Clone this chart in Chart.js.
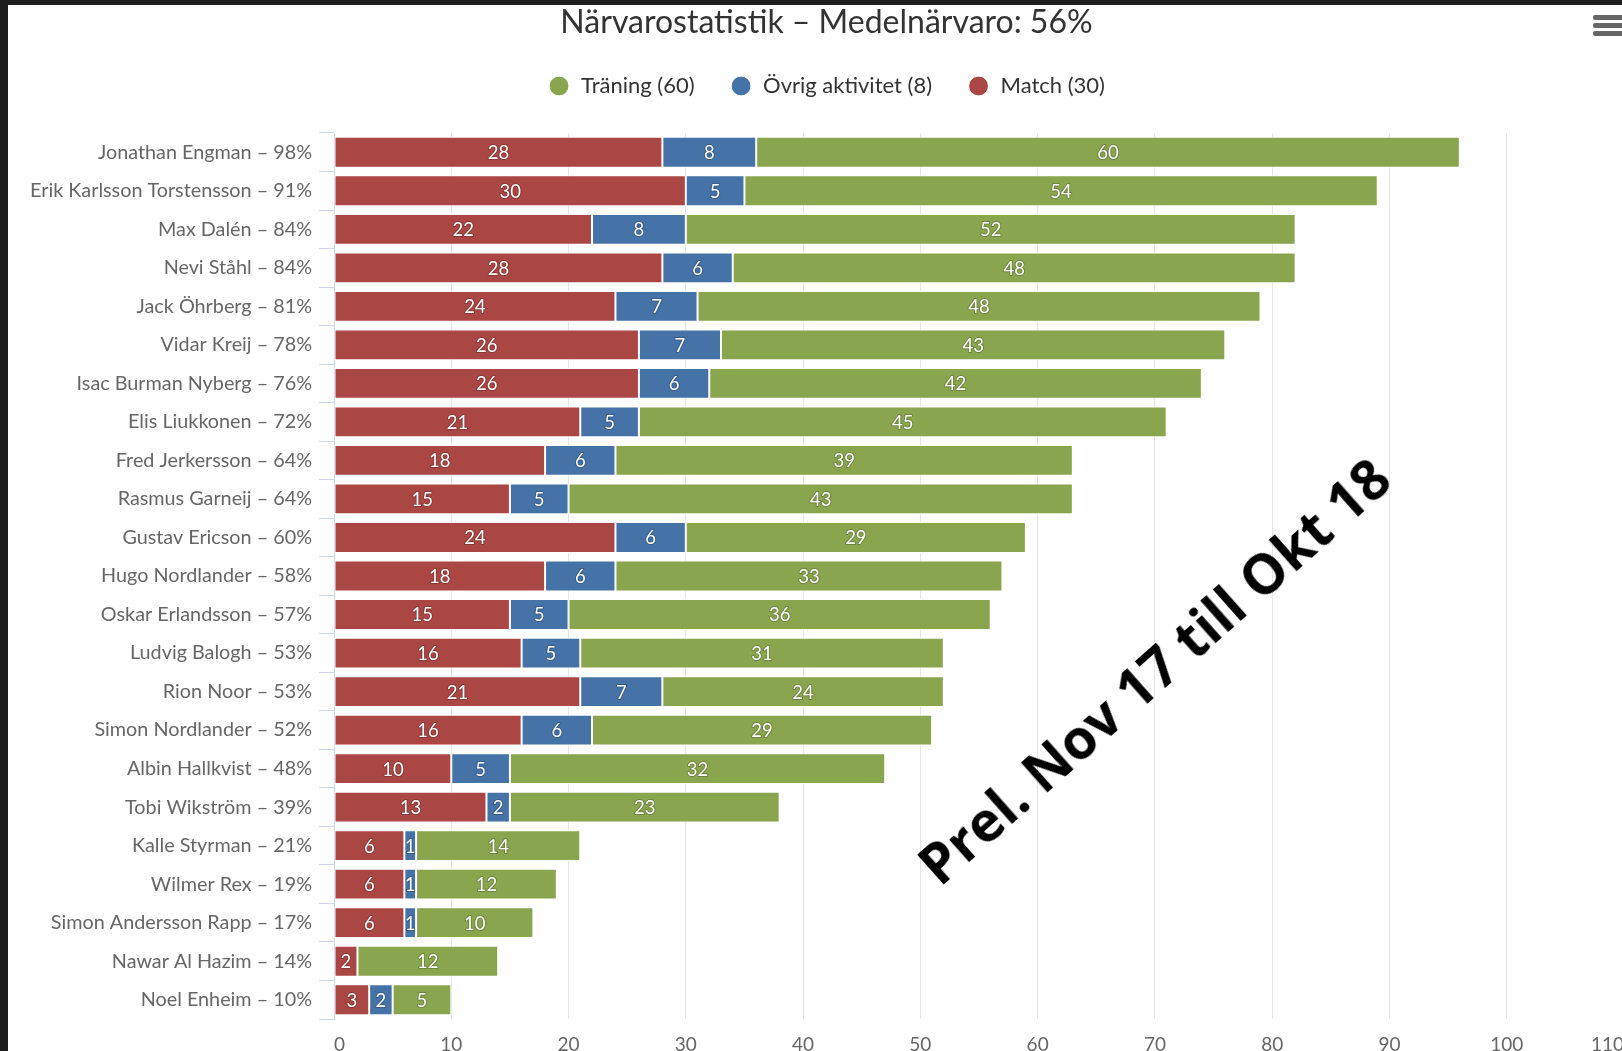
<!DOCTYPE html>
<html>
<head>
<meta charset="utf-8">
<title>Närvarostatistik</title>
<script src="https://cdn.jsdelivr.net/npm/chart.js@4.4.0/dist/chart.umd.min.js"></script>
<style>
  html, body { margin: 0; padding: 0; width: 1622px; height: 1051px; overflow: hidden; background: #1d1d1d; }
  #wrap { position: absolute; left: 8px; top: 5px; width: 1646px; height: 1060px; background: #fff; }
  #menu { position: absolute; left: 1593px; top: 15px; width: 36px; }
  #menu div { height: 4.5px; background: #666; border-radius: 2px; margin-bottom: 3.5px; }
  #stamp {
    position: absolute; left: 1153px; top: 670px;
    transform: translate(-50%, -50%) rotate(-41.6deg);
    font: 700 55px 'Open Sans', sans-serif; color: #000; white-space: nowrap;
  }
</style>
</head>
<body>
<div id="wrap"><canvas id="attendanceChart"></canvas></div>
<div id="menu"><div></div><div></div><div></div></div>
<div id="stamp">Prel. Nov 17 till Okt 18</div>
<script>
const players = [
  'Jonathan Engman – 98%',
  'Erik Karlsson Torstensson – 91%',
  'Max Dalén – 84%',
  'Nevi Ståhl – 84%',
  'Jack Öhrberg – 81%',
  'Vidar Kreij – 78%',
  'Isac Burman Nyberg – 76%',
  'Elis Liukkonen – 72%',
  'Fred Jerkersson – 64%',
  'Rasmus Garneij – 64%',
  'Gustav Ericson – 60%',
  'Hugo Nordlander – 58%',
  'Oskar Erlandsson – 57%',
  'Ludvig Balogh – 53%',
  'Rion Noor – 53%',
  'Simon Nordlander – 52%',
  'Albin Hallkvist – 48%',
  'Tobi Wikström – 39%',
  'Kalle Styrman – 21%',
  'Wilmer Rex – 19%',
  'Simon Andersson Rapp – 17%',
  'Nawar Al Hazim – 14%',
  'Noel Enheim – 10%',
];
const matchCounts = [28, 30, 22, 28, 24, 26, 26, 21, 18, 15, 24, 18, 15, 16, 21, 16, 10, 13, 6, 6, 6, 2, 3];
const otherCounts = [8, 5, 8, 6, 7, 7, 6, 5, 6, 5, 6, 6, 5, 5, 7, 6, 5, 2, 1, 1, 1, null, 2];
const trainingCounts = [60, 54, 52, 48, 48, 43, 42, 45, 39, 43, 29, 33, 36, 31, 24, 29, 32, 23, 14, 12, 10, 12, 5];
const xTicks = [0, 10, 20, 30, 40, 50, 60, 70, 80, 90, 100, 110];

const FONT = "Lato, 'Open Sans', sans-serif";

// white numbers in the middle of every segment
const segmentLabels = {
  id: 'segmentLabels',
  afterDatasetsDraw(chart) {
    const ctx = chart.ctx;
    ctx.save();
    ctx.font = '18.5px ' + FONT;
    ctx.textAlign = 'center';
    ctx.textBaseline = 'middle';
    ctx.lineJoin = 'round';
    chart.data.datasets.forEach((ds, i) => {
      const meta = chart.getDatasetMeta(i);
      meta.data.forEach((bar, j) => {
        const v = ds.data[j];
        if (v == null || v === 0) return;
        const { x, y, base } = bar.getProps(['x', 'y', 'base'], true);
        const cx = (x + base) / 2;
        ctx.lineWidth = 2;
        ctx.strokeStyle = 'rgba(0,0,0,0.2)';
        ctx.strokeText(String(v), cx, y + 1);
        ctx.fillStyle = '#fff';
        ctx.fillText(String(v), cx, y + 1);
      });
    });
    ctx.restore();
  },
};

const data = {
  labels: players,
  datasets: [
    { label: 'Match (30)', data: matchCounts, backgroundColor: '#AA4643' },
    { label: 'Övrig aktivitet (8)', data: otherCounts, backgroundColor: '#4572A7' },
    { label: 'Träning (60)', data: trainingCounts, backgroundColor: '#89A54E' },
  ],
};

const config = {
  type: 'bar',
  data: data,
  options: {
    indexAxis: 'y',
    responsive: true,
    maintainAspectRatio: false,
    animation: false,
    layout: { padding: { left: 21, right: 30, top: 0, bottom: 0 } },
    elements: {
      bar: { borderWidth: 1, borderColor: '#ffffff', borderSkipped: false },
    },
    datasets: { bar: { barPercentage: 0.8, categoryPercentage: 1 } },
    scales: {
      x: {
        stacked: true,
        min: 0,
        max: 110,
        afterBuildTicks: (scale) => { scale.ticks = xTicks.map((v) => ({ value: v })); },
        afterFit: (scale) => { scale.height = 46; },
        grid: { color: '#e6e6e6', drawTicks: false },
        border: { display: false },
        ticks: { padding: 14, align: 'inner', color: '#666666', font: { family: FONT, size: 19 } },
      },
      y: {
        stacked: true,
        afterFit: (scale) => { scale.width = 305; },
        grid: { offset: true, drawOnChartArea: false, drawTicks: true, tickLength: 15, color: '#ccd6eb' },
        border: { display: true, color: '#ccd6eb' },
        ticks: { padding: 7, color: '#666666', font: { family: FONT, size: 19.8 } },
      },
    },
    plugins: {
      tooltip: { enabled: false },
      title: {
        display: true,
        text: 'Närvarostatistik – Medelnärvaro: 56%',
        color: '#333333',
        font: { family: FONT, size: 32, weight: 'normal', lineHeight: 1 },
        padding: { top: 2, bottom: 0.5 },
      },
      legend: {
        reverse: true,
        labels: {
          usePointStyle: true,
          pointStyle: 'circle',
          boxHeight: 14,
          padding: 35.5,
          color: '#333333',
          font: { family: FONT, size: 22 },
        },
      },
      // empty spacer between legend and plot
      subtitle: {
        display: true,
        text: '',
        weight: 900,
        font: { size: 26, lineHeight: 1 },
        padding: 0,
      },
    },
  },
  plugins: [segmentLabels],
};

const attendanceChart = new Chart(document.getElementById('attendanceChart'), config);
</script>
</body>
</html>
